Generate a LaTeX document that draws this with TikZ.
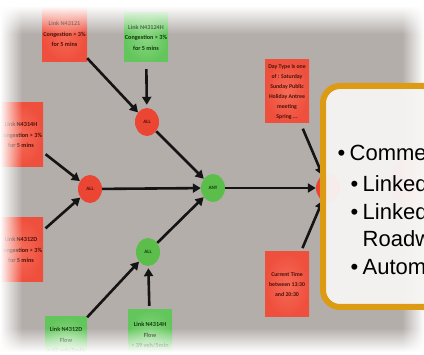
\documentclass[tikz,border=0pt]{standalone}
\usepackage{fontspec}
\setmainfont{Liberation Sans}
\newfontfamily\boxfont{Carlito}
\usetikzlibrary{arrows.meta,shapes.geometric,fadings}
\definecolor{bggray}{HTML}{B4AEAB}
\definecolor{boxred}{HTML}{EF4F3D}
\definecolor{boxredin}{HTML}{F56B57}
\definecolor{boxgreen}{HTML}{63C65C}
\definecolor{boxgreenin}{HTML}{8AD782}
\definecolor{circred}{HTML}{EA4633}
\definecolor{circgreen}{HTML}{5CBE4A}
\definecolor{calloutborder}{HTML}{DC9B12}
\definecolor{calloutfill}{HTML}{F7F5F4}
\definecolor{txtred}{HTML}{4A1208}
\definecolor{txtgreen}{HTML}{12380E}
\tikzfading[name=fadeS, top color=transparent!0, bottom color=transparent!100]
\tikzfading[name=fadeN, top color=transparent!100, bottom color=transparent!0]
\tikzfading[name=fadeE, left color=transparent!0, right color=transparent!100]
\tikzfading[name=fadeW, left color=transparent!100, right color=transparent!0]
\begin{document}
\begin{tikzpicture}[x=1pt,y=-1pt,
  condbox/.style={rectangle, inner sep=0pt, align=center,
    font=\boxfont\bfseries\fontsize{6.2}{10.5}\selectfont},
  redbox/.style={condbox, inner color=boxredin, outer color=boxred, text=txtred},
  greenbox/.style={condbox, inner color=boxgreenin, outer color=boxgreen, text=txtgreen},
  gate/.style={ellipse, minimum width=24pt, minimum height=28pt, inner sep=0pt,
    font=\boxfont\bfseries\fontsize{5}{5}\selectfont},
  redgate/.style={gate, fill=circred, text=txtred},
  greengate/.style={gate, fill=circgreen, text=txtgreen},
  flow/.style={draw=black!92, line width=2.6pt, -{Triangle[length=8pt,width=9pt]}},
  callouttext/.style={anchor=base west, font=\fontsize{22}{26}\selectfont, text=black, inner sep=0pt}
]
\useasboundingbox (0,0) rectangle (424,355);
\clip (0,0) rectangle (424,355);
\fill[bggray] (0,0) rectangle (424,355);

% condition boxes
\node[redbox, minimum width=45pt, minimum height=56pt] (rTop) at (64.5,34) {Link N43121\\Congestion > 3\%\\for 5 mins};
\node[greenbox, minimum width=44pt, minimum height=49pt] (gTop) at (146,37.5) {Link N43124H\\Congestion > 3\%\\for 5 mins};
\node[redbox, minimum width=44pt, minimum height=64pt] (rL1) at (21,135) {Link N4314H\\Congestion > 3\%\\for 5 mins};
\node[redbox, minimum width=44pt, minimum height=64pt] (rL2) at (21,250) {Link N4312D\\Congestion > 3\%\\for 5 mins};
\node[greenbox, minimum width=42pt, minimum height=46pt] (gB1) at (66,340) {Link N4312D\\Flow\\> 45 veh/5min};
\node[greenbox, minimum width=44pt, minimum height=50pt] (gB2) at (150,335) {Link N4314H\\Flow\\> 39 veh/5min};
\node[redbox, minimum width=44pt, minimum height=63pt, font=\boxfont\bfseries\fontsize{5.8}{10}\selectfont] (day) at (287,91.5) {Day Type is one\\of : Saturday\\Sunday Public\\Holiday Antree\\meeting\\Spring ...};
\node[redbox, minimum width=44pt, minimum height=65pt, font=\boxfont\bfseries\fontsize{5.8}{10}\selectfont] (time) at (287,284.5) {Current Time\\between 13:30\\and 20:30};

% gates
\node[redgate] (allTop) at (147,122) {ALL};
\node[redgate] (allL) at (90,189) {ALL};
\node[greengate] (any) at (213,188) {ANY};
\node[greengate] (allB) at (148,252) {ALL};
\node[redgate] (endR) at (328,188) {};
\node[ellipse, fill=circred!70, minimum width=44pt, minimum height=48pt] (ghost) at (410,183) {};

% connectors
\draw[flow] (rTop) -- (allTop);
\draw[flow, shorten <=7pt, shorten >=3pt] (gTop) -- (allTop);
\draw[flow] (allTop) -- (any);
\draw[flow, shorten <=3pt] (rL1) -- (allL);
\draw[flow, shorten <=3pt] (rL2) -- (allL);
\draw[flow] (allL) -- (any);
\draw[flow] (gB1) -- (allB);
\draw[flow, shorten <=4pt, shorten >=2pt] (gB2) -- (allB);
\draw[flow] (allB) -- (any);
\draw[flow] (any) -- (endR);
\draw[flow, shorten <=6pt] (day) -- (endR);
\draw[flow, shorten <=4pt] (time) -- (endR);

% photo vignette
\fill[white] (0,0) rectangle (424,6);
\fill[white, path fading=fadeS] (0,6) rectangle (424,34);
\fill[white, path fading=fadeE] (0,0) rectangle (22,355);
\fill[white, path fading=fadeW] (402,0) rectangle (424,355);
\fill[white, path fading=fadeN] (0,328) rectangle (424,352);
\fill[white] (0,352) rectangle (424,355);

% callout
\filldraw[line width=6pt, draw=calloutborder, fill=calloutfill, fill opacity=0.95, draw opacity=1, rounded corners=17pt] (323,86) rectangle (450,307);

\node[callouttext] (b1) at (337.5,161) {•};
\node[callouttext] (t1) at (349.5,161) {Comme};
\node[callouttext] (b2) at (350.5,192) {•};
\node[callouttext] (t2) at (362.5,192) {Linked};
\node[callouttext] (b3) at (350.5,220) {•};
\node[callouttext] (t3) at (362.5,220) {Linked};
\node[callouttext] (t4) at (362.5,247) {Roadw};
\node[callouttext] (b5) at (350.5,275) {•};
\node[callouttext] (t5) at (362.5,275) {Autom};
\end{tikzpicture}
\end{document}
